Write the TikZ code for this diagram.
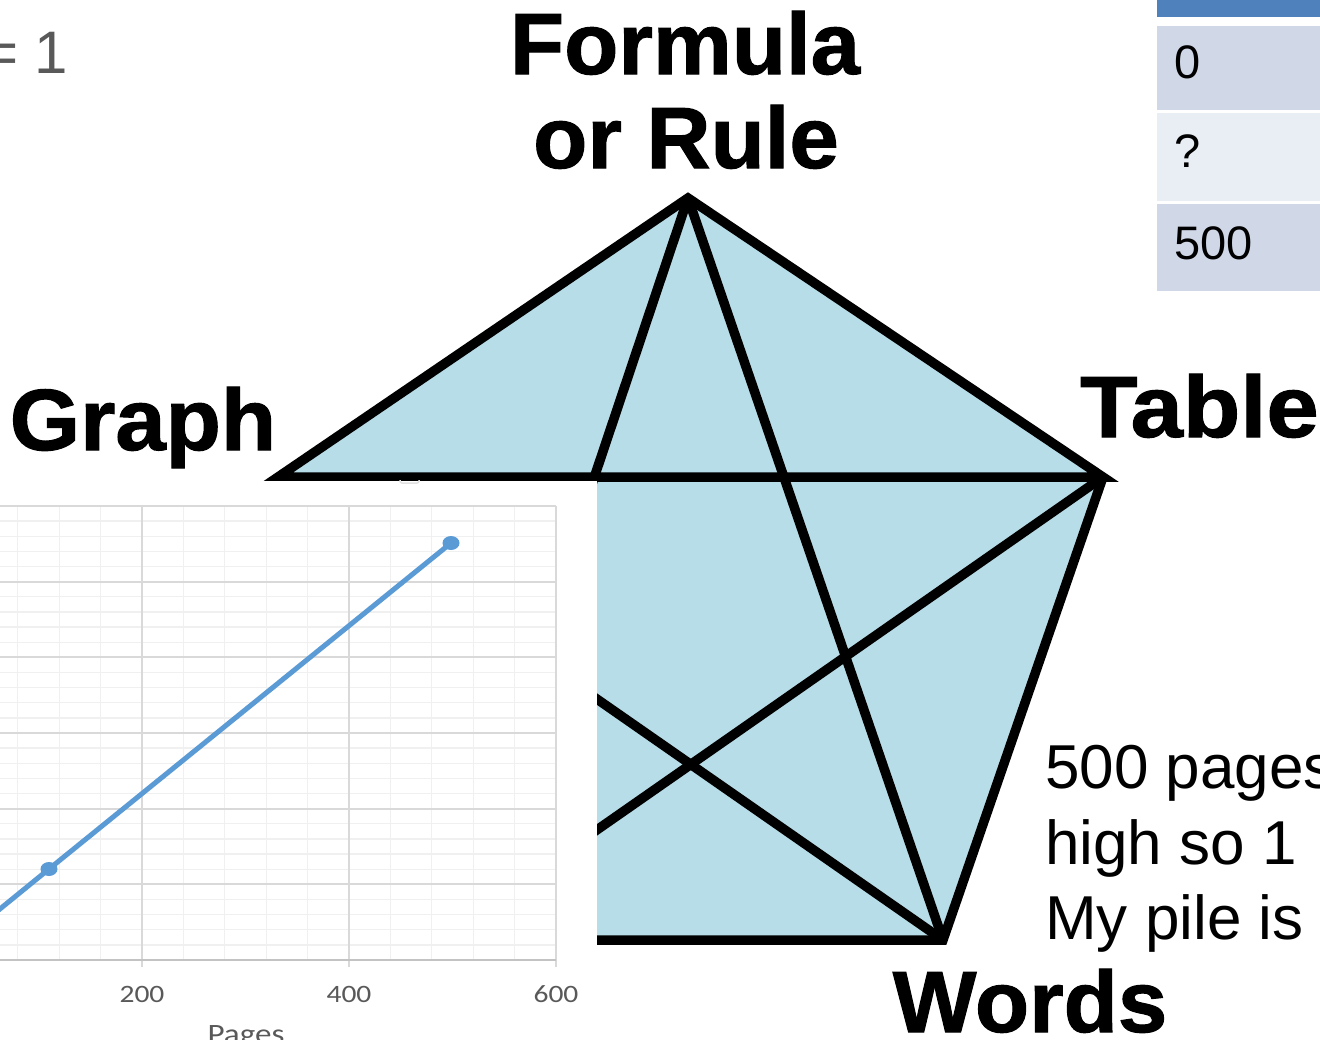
\documentclass[tikz,border=0pt]{standalone}
\usepackage{fontspec}
\usepackage{graphicx}
\setmainfont{Liberation Sans}
\newfontfamily\calib{Carlito}
\newfontfamily\heavy[FakeBold=1.2]{Liberation Sans Bold}
\definecolor{pent}{RGB}{183,221,232}
\definecolor{hdr}{RGB}{79,129,189}
\definecolor{rowA}{RGB}{208,216,232}
\definecolor{rowB}{RGB}{233,237,244}
\definecolor{txtgray}{RGB}{89,89,89}
\definecolor{gmajor}{RGB}{217,217,217}
\definecolor{gminor}{RGB}{240,240,240}
\definecolor{series}{RGB}{91,155,213}
\tikzset{
  edge/.style={line width=9.5pt, line join=miter, draw=black},
  big/.style={font=\heavy\fontsize{87}{90}\selectfont, inner sep=0pt, text=black},
  body/.style={font=\fontsize{62}{64}\selectfont, inner sep=0pt, anchor=base west},
  cell/.style={font=\fontsize{47}{50}\selectfont, inner sep=0pt, anchor=base west},
  ticklab/.style={font=\calib\fontsize{25}{26}\selectfont, text=txtgray, inner sep=0pt, anchor=base},
  minorg/.style={draw=gminor, line width=1.3pt},
  majorg/.style={draw=gmajor, line width=1.8pt},
  seriesline/.style={draw=series, line width=5pt, line cap=round},
}
\begin{document}
\begin{tikzpicture}[x=1pt,y=-1pt]
\clip (0,0) rectangle (1320,1039);
\fill[white] (0,0) rectangle (1320,1039);

% pentagon vertices
\coordinate (F) at (688,198);
\coordinate (T) at (1103,477);
\coordinate (W) at (943,940);
\coordinate (B) at (439,940);
\coordinate (G) at (278,477);

\fill[pent] (F)--(T)--(W)--(B)--(G)--cycle;
\draw[edge] (G)--(F)--(T)--cycle;
\draw[edge] (T)--(W)--(B)--(G);
\draw[edge] (F)--(W);
\draw[edge] (F)--(B);
\draw[edge] (T)--(B);
\draw[edge] (G)--(W);

% chart image covering lower left
\fill[white] (0,480.5) rectangle (596.7,1039);
\begin{scope}
\clip (0,480.5) rectangle (596.7,1039);
\draw[draw=gmajor!80, line width=1.5pt, rounded corners=2pt] (400,472) rectangle (419,483);
\foreach \i in {0,...,30} {
  \draw[minorg] (0,{506+\i*15.133}) -- (556,{506+\i*15.133});
}
\foreach \k in {-3,...,10} {
  \draw[minorg] ({142+\k*41.4},506) -- ({142+\k*41.4},960);
}
\foreach \i in {0,...,6} {
  \draw[majorg] (0,{506+\i*75.667}) -- (556,{506+\i*75.667});
}
\foreach \k in {0,5,10} {
  \draw[majorg] ({142+\k*41.4},506) -- ({142+\k*41.4},967);
}
\draw[draw=gmajor!90!black, line width=1.8pt] (0,960) -- (556,960);
\coordinate (p0) at (-5,913);
\coordinate (p1) at (49,869);
\coordinate (p2) at (451,543);
\draw[seriesline] (p0)--(p1)--(p2);
\fill[series] (p1) ellipse [x radius=8.5, y radius=7];
\fill[series] (p2) ellipse [x radius=8.5, y radius=7];
\node[ticklab] (t200) at (142,1002) {\scalebox{1.18}[1]{200}};
\node[ticklab] (t400) at (349,1002) {\scalebox{1.18}[1]{400}};
\node[ticklab] (t600) at (556,1002) {\scalebox{1.18}[1]{600}};
\node[ticklab, font=\calib\fontsize{28}{30}\selectfont] (pages) at (246,1043) {\scalebox{1.18}[1]{Pages}};
\end{scope}

% labels
\node[big, anchor=base] (formula) at (685,74) {\scalebox{1.02}[1]{Formula}};
\node[big, anchor=base] (rule) at (686,168) {\scalebox{1.02}[1]{or Rule}};
\node[big, anchor=base] (graph) at (143,450) {\scalebox{1.04}[1]{Graph}};
\node[big, anchor=base west] (table) at (1080,437) {\scalebox{1.08}[1]{Table}};
\node[big, anchor=base] (words) at (1030,1032) {\scalebox{1.02}[1]{Words}};

% text at right
\node[body] (l1) at (1045,788) {500 pages};
\node[body] (l2) at (1045,864) {high so 1};
\node[body] (l3) at (1045,939) {My pile is};

% top-left fragment
\node[body, font=\fontsize{60}{62}\selectfont, text=txtgray] (eq) at (-17,73) {= 1};

% table top right
\fill[hdr] (1157,-5) rectangle (1325,17);
\fill[rowA] (1157,26) rectangle (1325,110);
\fill[rowB] (1157,113) rectangle (1325,201);
\fill[rowA] (1157,204) rectangle (1325,291);
\node[cell] (c0) at (1174,78) {0};
\node[cell] (c1) at (1174,167) {?};
\node[cell] (c2) at (1174,259) {500};
\end{tikzpicture}
\end{document}
